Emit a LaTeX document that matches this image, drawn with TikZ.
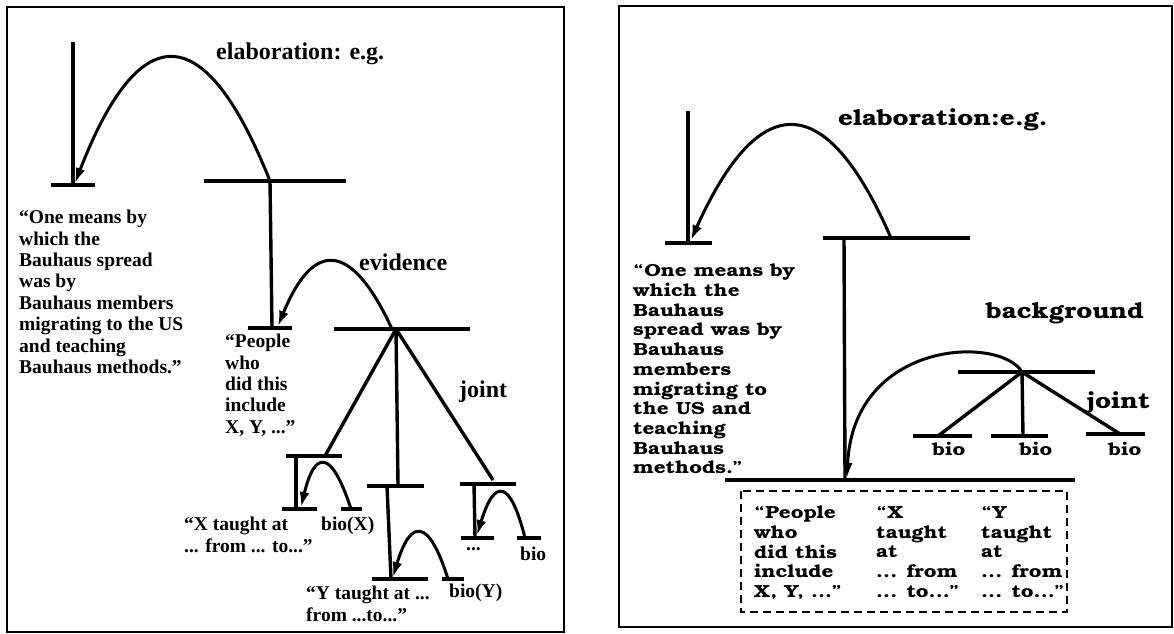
\documentclass[tikz,border=0pt]{standalone}
\usepackage{fontspec}
\setmainfont{Liberation Serif}
\newfontfamily\bkfont{TeX Gyre Bonum}[FakeStretch=1.18]
\usetikzlibrary{arrows.meta,calc}
\newcommand{\parc}[4][]{\draw[arr,#1] (#2) .. controls ($(#2)!0.6667!(#4)$) and ($(#3)!0.6667!(#4)$) .. (#3);}
\begin{document}
\begin{tikzpicture}[x=1pt,y=-1pt,
  ln/.style={line width=3.4pt},
  barln/.style={line width=3.4pt},
  arr/.style={line width=3pt,-{Latex[length=15pt,width=10pt]}},
  frame/.style={line width=2.6pt},
  lbody/.style={font=\bfseries\fontsize{19.5}{21.4}\selectfont,align=left,inner sep=0pt,anchor=north west},
  lhead/.style={font=\bfseries\fontsize{24}{26}\selectfont,inner sep=0pt,anchor=base west},
  lsmall/.style={font=\bfseries\fontsize{19.5}{21.4}\selectfont,inner sep=0pt,anchor=base west},
  rbody/.style={font=\bkfont\bfseries\fontsize{17.5}{19.7}\selectfont,align=left,inner sep=0pt,anchor=north west},
  rhead/.style={font=\bkfont\bfseries\fontsize{22}{24}\selectfont,inner sep=0pt,anchor=base west},
  rsmall/.style={font=\bkfont\bfseries\fontsize{17.5}{19.7}\selectfont,inner sep=0pt,anchor=base},
  dashbox/.style={line width=2pt,dash pattern=on 8pt off 5pt}
]
\fill[white] (0,0) rectangle (1174,633);
\useasboundingbox (0,0) rectangle (1174,633);

% ---------------- left panel ----------------
\draw[frame] (7,7) rectangle (564,632);

\coordinate (Ltop) at (73,42);
\coordinate (Lroot) at (73,185);
\coordinate (b1l) at (51,185); \coordinate (b1r) at (95,185);
\coordinate (tipL1) at (75,183);
\draw[ln] (Ltop) -- (Lroot);
\draw[barln] (b1l) -- (b1r);

\coordinate (b2l) at (204,181); \coordinate (b2r) at (346,181);
\coordinate (N2) at (270,181);
\coordinate (N3) at (272,328);
\coordinate (b3l) at (248,328); \coordinate (b3r) at (292,328);
\draw[barln] (b2l) -- (b2r);
\draw[ln] (N2) -- (N3);
\draw[barln] (b3l) -- (b3r);

\coordinate (qE) at (171.5,-66);
\parc{N2}{tipL1}{qE}

\coordinate (b4l) at (334,329); \coordinate (b4r) at (470,329);
\coordinate (J) at (396,329);
\coordinate (evs) at (392,329);
\coordinate (tipL2) at (278,326);
\coordinate (qV) at (331,196.5);
\draw[barln] (b4l) -- (b4r);
\parc{evs}{tipL2}{qV}

\coordinate (S1t) at (325,456);
\coordinate (S2t) at (398,485);
\coordinate (S3t) at (493,480);
\draw[ln] (J) -- (S1t);
\draw[ln] (J) -- (S2t);
\draw[ln] (J) -- (S3t);

% sub 1
\coordinate (s1al) at (286,456); \coordinate (s1ar) at (342,456);
\coordinate (s1v) at (296,456); \coordinate (s1b) at (296,509);
\coordinate (s1bl) at (282,509); \coordinate (s1br) at (317,509);
\coordinate (s1cl) at (341,509); \coordinate (s1cr) at (362,509);
\coordinate (s1s) at (351,509); \coordinate (s1tip) at (301,507);
\coordinate (s1q) at (322,420);
\draw[barln] (s1al) -- (s1ar);
\draw[ln] (s1v) -- (s1b);
\draw[barln] (s1bl) -- (s1br);
\draw[barln] (s1cl) -- (s1cr);
\parc{s1s}{s1tip}{s1q}

% sub 2
\coordinate (s2al) at (367,486); \coordinate (s2ar) at (424,486);
\coordinate (s2v) at (387,486); \coordinate (s2b) at (391,579);
\coordinate (s2bl) at (372,579); \coordinate (s2br) at (428,579);
\coordinate (s2cl) at (442,579); \coordinate (s2cr) at (464,579);
\coordinate (s2s) at (448,579); \coordinate (s2tip) at (393,577);
\coordinate (s2q) at (419.5,488);
\draw[barln] (s2al) -- (s2ar);
\draw[ln] (s2v) -- (s2b);
\draw[barln] (s2bl) -- (s2br);
\draw[barln] (s2cl) -- (s2cr);
\parc{s2s}{s2tip}{s2q}

% sub 3
\coordinate (s3al) at (460,484); \coordinate (s3ar) at (516,484);
\coordinate (s3v) at (474,484); \coordinate (s3b) at (475,538);
\coordinate (s3bl) at (461,538); \coordinate (s3br) at (494,538);
\coordinate (s3cl) at (517,538); \coordinate (s3cr) at (541,538);
\coordinate (s3s) at (525,538); \coordinate (s3tip) at (477,535);
\coordinate (s3q) at (503,449.5);
\draw[barln] (s3al) -- (s3ar);
\draw[ln] (s3v) -- (s3b);
\draw[barln] (s3bl) -- (s3br);
\draw[barln] (s3cl) -- (s3cr);
\parc{s3s}{s3tip}{s3q}

% left texts
\node[lhead] (tElabL) at (216,59) {elaboration: e.g.};
\node[lhead] (tEvid) at (359,270) {evidence};
\node[lhead] (tJointL) at (459,397) {joint};
\node[lbody] (tOneL) at (19,210) {“One means by\\which the\\Bauhaus spread\\was by\\Bauhaus members\\migrating to the US\\and teaching\\Bauhaus methods.”};
\node[lbody] (tPeopleL) at (225,334) {“People\\who\\did this\\include\\X, Y, ...”};
\node[lbody] (tXL) at (184,517) {“X taught at\\... from ... to...”};
\node[lsmall] (tbioX) at (321,530) {bio(X)};
\node[lbody] (tYL) at (306,586) {“Y taught at ...\\from ...to...”};
\node[lsmall] (tbioY) at (449,597) {bio(Y)};
\node[lsmall] (tdots) at (466,550) {...};
\node[lsmall] (tbioL) at (520,560) {bio};

% ---------------- right panel ----------------
\draw[frame] (619,6) rectangle (1172,627);

\coordinate (Rtop) at (688,111);
\coordinate (Rroot) at (688,243);
\coordinate (r1l) at (665,243); \coordinate (r1r) at (712,243);
\coordinate (tipR1) at (691,240);
\draw[ln] (Rtop) -- (Rroot);
\draw[barln] (r1l) -- (r1r);

\coordinate (r2l) at (823,238); \coordinate (r2r) at (970,238);
\coordinate (rEs) at (891,238);
\coordinate (qR) at (793,13);
\draw[barln] (r2l) -- (r2r);
\parc{rEs}{tipR1}{qR}

\coordinate (RN2) at (844,238);
\coordinate (RN3) at (845,480);
\coordinate (r3l) at (725,480); \coordinate (r3r) at (1075,480);
\draw[ln] (RN2) -- (RN3);
\draw[barln] (r3l) -- (r3r);

\draw[dashbox] (741,491) rectangle (1067,612);

\coordinate (r4l) at (958,372); \coordinate (r4r) at (1095,372);
\coordinate (J2) at (1022,372);
\coordinate (tipR2) at (847,478);
\draw[barln] (r4l) -- (r4r);
\draw[arr] (J2) .. controls (1000,335) and (853,340) .. (tipR2);

\coordinate (RB1) at (938,436);
\coordinate (RB2) at (1023,436);
\coordinate (RB3) at (1120,434);
\draw[ln] (J2) -- (RB1);
\draw[ln] (J2) -- (RB2);
\draw[ln] (J2) -- (RB3);
\coordinate (rb1l) at (913,436); \coordinate (rb1r) at (972,436);
\coordinate (rb2l) at (991,436); \coordinate (rb2r) at (1048,436);
\coordinate (rb3l) at (1086,434); \coordinate (rb3r) at (1145,434);
\draw[barln] (rb1l) -- (rb1r);
\draw[barln] (rb2l) -- (rb2r);
\draw[barln] (rb3l) -- (rb3r);

\node[rsmall] (tbio1) at (949,455) {bio};
\node[rsmall] (tbio2) at (1036,455) {bio};
\node[rsmall] (tbio3) at (1125,455) {bio};
\node[rhead] (tJointR) at (1086,408) {joint};
\node[rhead] (tBack) at (986,318) {background};
\node[rhead] (tElabR) at (838,125) {elaboration:e.g.};
\node[rbody] (tOneR) at (633,264) {“One means by\\which the\\Bauhaus\\spread was by\\Bauhaus\\members\\migrating to\\the US and\\teaching\\Bauhaus\\methods.”};
\node[rbody] (tC1) at (754,506) {“People\\who\\did this\\include\\X, Y, ...”};
\node[rbody] (tC2) at (876,506) {“X\\taught\\at\\... from\\... to...”};
\node[rbody] (tC3) at (981,506) {“Y\\taught\\at\\... from\\... to...”};
\end{tikzpicture}
\end{document}
